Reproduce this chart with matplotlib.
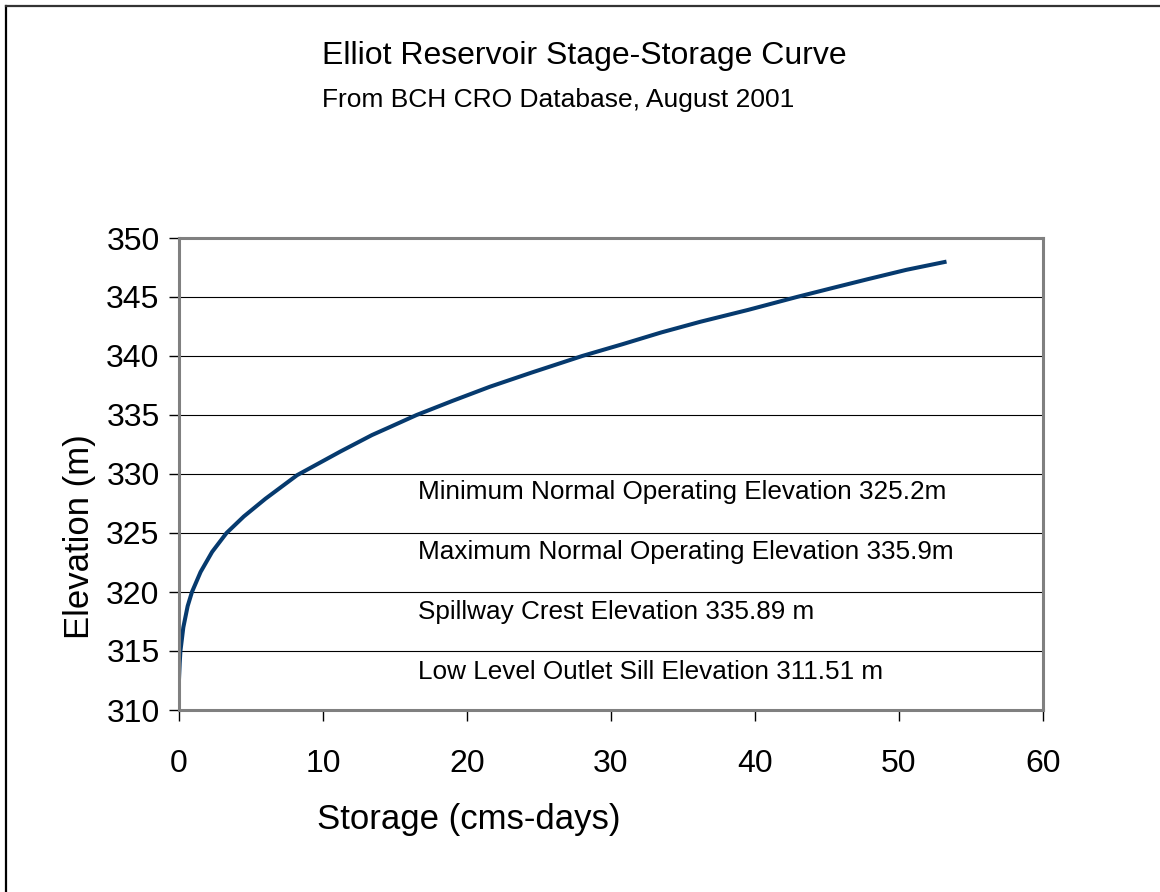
import matplotlib.pyplot as plt
from matplotlib.lines import Line2D

plt.rcParams['font.family'] = ['Liberation Sans', 'DejaVu Sans']

# Stage-storage pairs (storage in cms-days, elevation in m)
storage = [0, 0.05, 0.1, 0.3, 0.6, 0.9, 1.5, 2.3, 3.3, 4.5, 6.0, 8.2, 10.0,
           11.2, 12.3, 13.4, 14.5, 16.5, 19.0, 21.6, 24.5, 28.0, 30.8, 33.5,
           36.2, 39.5, 42.9, 45.5, 47.8, 50.5, 53.3]
elevation = [312.6, 314.0, 315.0, 317.0, 318.8, 320.0, 321.7, 323.4, 325.0,
             326.4, 327.9, 329.9, 331.1, 331.9, 332.6, 333.3, 333.9, 335.0,
             336.2, 337.4, 338.6, 340.0, 341.0, 342.0, 342.9, 343.9, 345.0,
             345.8, 346.5, 347.3, 348.0]

x_ticks = [0, 10, 20, 30, 40, 50, 60]
y_ticks = [310, 315, 320, 325, 330, 335, 340, 345, 350]

notes = ["Minimum Normal Operating Elevation 325.2m",
         "Maximum Normal Operating Elevation 335.9m",
         "Spillway Crest Elevation 335.89 m",
         "Low Level Outlet Sill Elevation 311.51 m"]
note_y = [327.9, 322.8, 317.7, 312.6]

W, H = 1160, 892
fig = plt.figure(figsize=(W / 100, H / 100), dpi=100)
ax = fig.add_axes([179 / W, 1 - 710 / H, 864 / W, 472 / H])

ax.plot(storage, elevation, color='#063a6e', lw=2.9, solid_capstyle='butt')

ax.set_xlim(0, 60)
ax.set_ylim(310, 350)
ax.set_xticks(x_ticks)
ax.set_yticks(y_ticks)
ax.yaxis.grid(True, color='black', lw=0.8)
ax.set_axisbelow(True)
ax.tick_params(axis='y', direction='out', length=7, width=1, labelsize=23, pad=7)
ax.tick_params(axis='x', direction='out', length=8, width=1, labelsize=23, pad=20)
for s in ax.spines.values():
    s.set_color('#808080')
    s.set_linewidth(2.2)

for txt, y in zip(notes, note_y):
    ax.text(16.6, y, txt, fontsize=18.8, va='baseline', ha='left')

fig.text(322 / W, 1 - 64 / H, "Elliot Reservoir Stage-Storage Curve",
         fontsize=23, ha='left', va='baseline')
fig.text(322 / W, 1 - 107 / H, "From BCH CRO Database, August 2001",
         fontsize=19, ha='left', va='baseline')
fig.text(80 / W, 1 - 537 / H, "Elevation (m)", fontsize=25, rotation=90,
         ha='center', va='center')
fig.text(469 / W, 1 - 820 / H, "Storage (cms-days)", fontsize=25,
         ha='center', va='center')

# outer frame: top and left edges only
fig.add_artist(Line2D([6 / W, 6 / W], [0, 1 - 6 / H], transform=fig.transFigure,
                      color='black', lw=1.6))
fig.add_artist(Line2D([6 / W, 1], [1 - 6 / H, 1 - 6 / H], transform=fig.transFigure,
                      color='#333333', lw=1.6))

fig.savefig('out.png', dpi=100)
